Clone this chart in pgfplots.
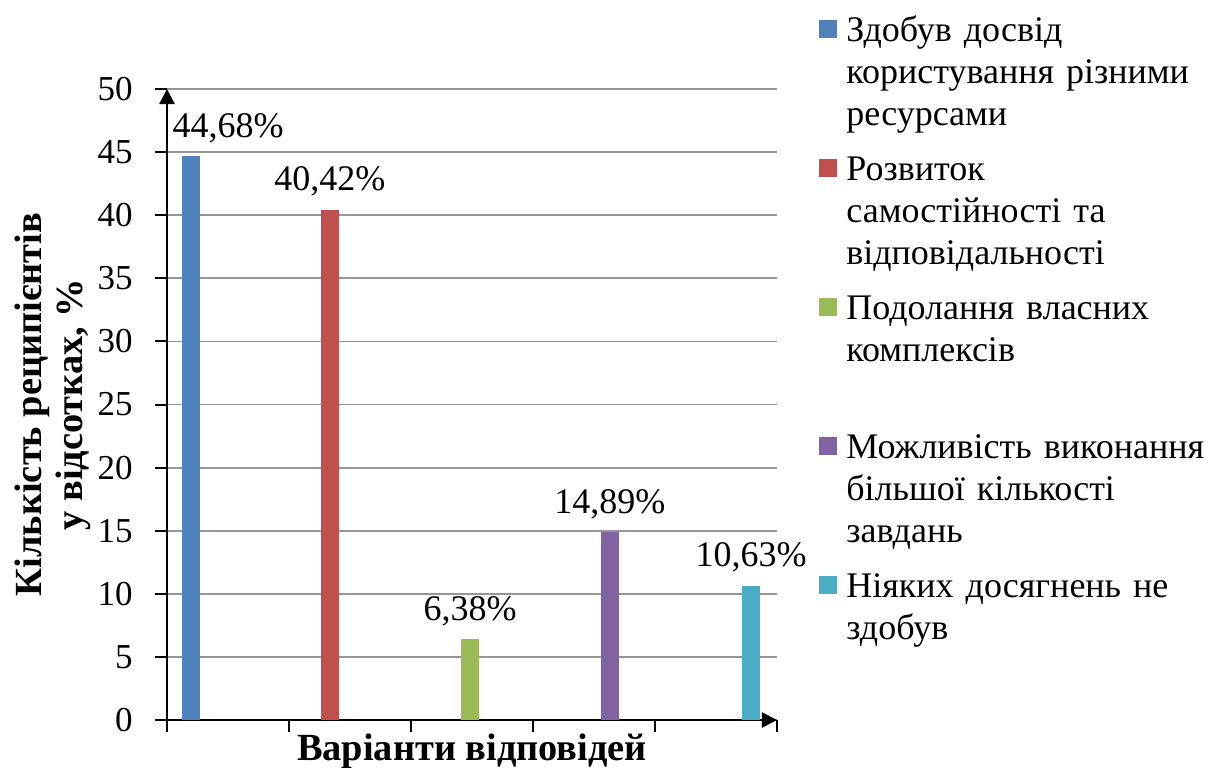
\documentclass[border=0pt]{standalone}
\usepackage{fontspec}
\setmainfont{Liberation Serif}
\usepackage{pgfplots}
\pgfplotsset{compat=1.18}
\usetikzlibrary{arrows.meta}

\definecolor{c1}{HTML}{4F81BD}
\definecolor{c2}{HTML}{C0504D}
\definecolor{c3}{HTML}{9BBB59}
\definecolor{c4}{HTML}{8064A2}
\definecolor{c5}{HTML}{4BACC6}
\definecolor{gridc}{RGB}{150,150,150}

\begin{document}
\begin{tikzpicture}
\begin{axis}[
    scale only axis,
    width=305pt, height=315.5pt,
    xmin=0, xmax=5, ymin=0, ymax=50,
    enlargelimits=false,
    clip=false,
    ybar, bar shift=0pt, bar width=9pt,
    axis lines=left,
    axis line style={black, line width=1.2pt, -{Triangle[width=7.5pt,length=7.5pt]}},
    tick align=outside,
    major tick length=6pt,
    tick style={black, line width=1pt},
    xtick={0,1,2,3,4,5}, xticklabels={},
    ytick={0,5,...,50},
    ymajorgrids,
    major grid style={gridc, line width=0.9pt},
    /pgf/number format/assume math mode=true,
    /pgf/number format/use comma,
    ticklabel style={font=\fontsize{17.5}{20}\selectfont},
    yticklabel style={inner sep=0pt},
    yticklabel shift=11pt,
    xlabel={Варіанти відповідей},
    xlabel style={font=\bfseries\fontsize{19.2}{22}\selectfont, at={(axis description cs:0.5,0)}, anchor=base, yshift=-20pt, inner sep=0pt},
    ylabel={Кількість реципієнтів\\у відсотках, \%},
    ylabel style={font=\bfseries\fontsize{19.2}{20.5}\selectfont, align=center, rotate=0, at={(axis description cs:-0.2506,0.5)}, anchor=north, inner sep=0pt},
    nodes near coords={\pgfmathprintnumber[fixed, fixed zerofill, precision=2, use comma, assume math mode=true]{\pgfplotspointmeta}\%},
    every node near coord/.append style={font=\fontsize{18}{21}\selectfont, black, anchor=base, yshift=9.5pt, inner sep=0pt},
    legend cell align=left,
    legend style={draw=none, fill=none, inner sep=0pt, row sep=0pt, column sep=4.5pt,
        nodes={inner sep=0pt, text width=200pt, align=left, text height=13pt, text depth=56.5pt},
        font=\fontsize{18}{21}\selectfont,
        at={(axis description cs:1.0689,1.117)}, anchor=north west},
    legend image code/.code={\fill[#1] (0pt,23.75pt) rectangle (9pt,32.75pt);},
]
\coordinate (O) at (rel axis cs:0,0);

\addplot[fill=c1, draw=none, every node near coord/.append style={xshift=18.5pt}] coordinates {(0.197,44.68)};
\addlegendentry{Здобув досвід\newline користування різними\newline ресурсами}

\addplot[fill=c2, draw=none] coordinates {(1.336,40.42)};
\addlegendentry{Розвиток\newline самостійності та\newline відповідальності}

\addplot[fill=c3, draw=none] coordinates {(2.484,6.38)};
\addlegendentry{Подолання власних\newline комплексів}

\addplot[fill=c4, draw=none] coordinates {(3.631,14.89)};
\addlegendentry{Можливість виконання\newline більшої кількості\newline завдань}

\addplot[fill=c5, draw=none] coordinates {(4.787,10.63)};
\addlegendentry{Ніяких досягнень не\newline здобув}

\end{axis}
\pgfresetboundingbox
\path (O) ++(-83.5pt,-23.5pt) rectangle ++(608.5pt,383.5pt);
\end{tikzpicture}
\end{document}
